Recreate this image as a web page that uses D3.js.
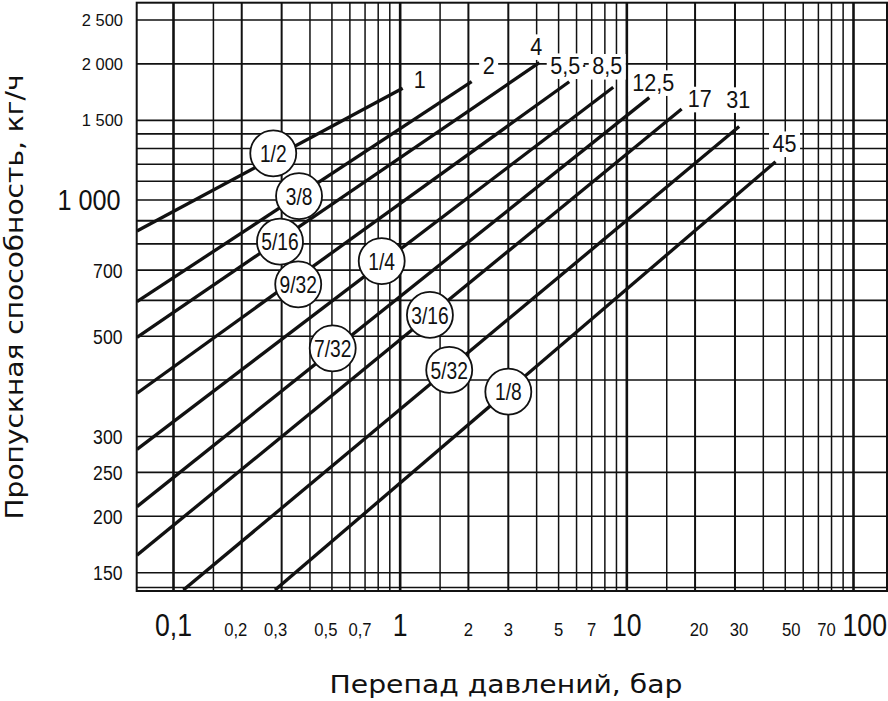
<!DOCTYPE html>
<html>
<head>
<meta charset="utf-8">
<script src="https://cdn.jsdelivr.net/npm/d3@7"></script>
<style>
    html, body { margin: 0; padding: 0; background: #fff; }
    svg { display: block; }
    .narrow { font-family: "Liberation Sans", Arial, sans-serif; }
    .title { font-family: "DejaVu Sans", "Liberation Sans", sans-serif; }
</style>
</head>
<body>
<svg id="chart"></svg>
<script>
// Orifice sizes, one line each
const orifices = ['1/2', '3/8', '5/16', '9/32', '1/4', '7/32', '3/16', '5/32', '1/8'];
// Line start / end, pressure drop (bar) and flow (kg/h)
const startDp   = [0.069, 0.069, 0.069, 0.069, 0.069, 0.069, 0.069, 0.1105, 0.2804];
const startFlow = [854, 596, 497, 374, 281, 210, 164, 137.3, 137.3];
const endDp     = [1.026, 2.067, 4.11, 5.57, 8.71, 12.56, 17.45, 31.3, 45.3];
const endFlow   = [1766, 1826, 2012, 1826, 1775, 1684, 1589, 1453, 1215];
// Max pressure drop labels at the line ends
const endLabels = ['1', '2', '4', '5,5', '8,5', '12,5', '17', '31', '45'];
// Where the orifice circles sit
const circleDp   = [0.2755, 0.358, 0.295, 0.355, 0.829, 0.504, 1.353, 1.646, 3.0];
const circleFlow = [1268, 1020, 809, 651, 733, 470, 557, 421, 377];

// Ticks and grid
const xGrid = [0.1, 0.15, 0.2, 0.3, 0.4, 0.5, 0.6, 0.7, 0.8, 0.9,
               1, 1.5, 2, 3, 4, 5, 6, 7, 8, 9,
               10, 15, 20, 30, 40, 50, 60, 70, 80, 90, 100];
const xMajor = [0.1, 1, 10, 100];
const xMinorLabels = [0.2, 0.3, 0.5, 0.7, 2, 3, 5, 7, 20, 30, 50, 70];
const yGrid = [150, 200, 250, 300, 400, 500, 600, 700, 800, 900,
               1000, 1100, 1200, 1300, 1400, 1500, 2000, 2500];
const yTickSmall = [150, 200, 250, 300, 500, 700];
const yTickTop = [1500, 2000, 2500];
const yTickBig = [1000];

const width = 888;
const height = 701;
const plot = { left: 136.7, right: 887, top: 2.7, bottom: 591 };

// label nudges (px)
const endLabelOffset = [[17, 0], [17, -8], [-3, -8], [-4, -8], [-6, -13], [4, -7], [18, -2], [-1, -19], [9, -10]];
const xMinorNudge = [-6, -6, -6, -5, 0, 0, 0, 0, 4, 4, 6, 8];

const svg = d3.select('#chart')
    .attr('width', width)
    .attr('height', height);

const x = d3.scaleLog().domain([0.1, 100]).range([173.5, 853.5]);
const y = d3.scaleLog().domain([150, 2500]).range([572.7, 20]);

const fmt = v => String(v).replace('.', ',');
const fmtY = v => v >= 1000 ? String(v).replace(/(\d)(\d{3})$/, '$1 $2') : String(v);

// condensed text: translate then squeeze horizontally
const squeeze = (px, py, sx) => `translate(${px},${py}) scale(${sx},1)`;

// Grid
const grid = svg.append('g').attr('stroke', '#111');

grid.selectAll('.vgrid')
    .data(xGrid)
    .join('line')
    .attr('x1', d => x(d)).attr('x2', d => x(d))
    .attr('y1', plot.top).attr('y2', plot.bottom)
    .attr('stroke-width', d => xMajor.includes(d) ? 2.6 : ([0.2, 0.3, 2, 3, 20, 30].includes(d) ? 2 : 1.5));

grid.selectAll('.hgrid')
    .data(yGrid)
    .join('line')
    .attr('x1', plot.left).attr('x2', plot.right)
    .attr('y1', d => y(d)).attr('y2', d => y(d))
    .attr('stroke-width', d => d === 900 ? 2 : 1.6);

// Frame
svg.append('rect')
    .attr('x', plot.left).attr('y', plot.top)
    .attr('width', plot.right - plot.left)
    .attr('height', plot.bottom - plot.top)
    .attr('fill', 'none')
    .attr('stroke', '#111')
    .attr('stroke-width', 2);
svg.append('line')
    .attr('x1', plot.left).attr('x2', plot.right)
    .attr('y1', plot.bottom - 3.5).attr('y2', plot.bottom - 3.5)
    .attr('stroke', '#111').attr('stroke-width', 1.5);

// Clip for flow lines
svg.append('clipPath').attr('id', 'clip')
    .append('rect')
    .attr('x', plot.left).attr('y', plot.top)
    .attr('width', plot.right - plot.left)
    .attr('height', plot.bottom - plot.top);

const lines = orifices.map((name, i) => ({
    name,
    pts: [[startDp[i], startFlow[i]], [endDp[i], endFlow[i]]],
    label: endLabels[i],
    circle: [circleDp[i], circleFlow[i]]
}));

const lineGen = d3.line().x(d => x(d[0])).y(d => y(d[1]));

svg.append('g')
    .attr('clip-path', 'url(#clip)')
    .selectAll('path')
    .data(lines)
    .join('path')
    .attr('d', d => lineGen(d.pts))
    .attr('fill', 'none')
    .attr('stroke', '#111')
    .attr('stroke-width', 3.3);

// End labels with white boxes
const endG = svg.append('g').attr('class', 'narrow');
lines.forEach((d, i) => {
    const g = endG.append('g')
        .attr('transform', squeeze(x(d.pts[1][0]) + endLabelOffset[i][0], y(d.pts[1][1]) + endLabelOffset[i][1], 0.88));
    const box = g.append('rect').attr('fill', '#fff');
    const t = g.append('text')
        .attr('text-anchor', 'middle')
        .attr('font-size', 24.5)
        .attr('fill', '#111')
        .text(d.label);
    const b = t.node().getBBox();
    box.attr('x', b.x - 4).attr('y', b.y + 2)
       .attr('width', b.width + 8).attr('height', b.height - 2);
});
endG.append('text')
    .attr('x', 584).attr('y', 71)
    .attr('text-anchor', 'middle')
    .attr('font-size', 20)
    .attr('fill', '#111')
    .text('·');

// Orifice circles
const circG = svg.append('g').attr('class', 'narrow')
    .selectAll('g')
    .data(lines)
    .join('g')
    .attr('transform', d => `translate(${x(d.circle[0])}, ${y(d.circle[1])})`);
circG.append('circle')
    .attr('r', 23)
    .attr('fill', '#fff')
    .attr('stroke', '#111')
    .attr('stroke-width', 1.8);
circG.append('text')
    .attr('text-anchor', 'middle')
    .attr('dy', '0.36em')
    .attr('font-size', 24)
    .attr('transform', 'scale(0.8,1)')
    .attr('fill', '#111')
    .text(d => d.name);

// X tick labels
const xt = svg.append('g').attr('class', 'narrow').attr('fill', '#111');
xt.selectAll('.xbig')
    .data(xMajor)
    .join('text')
    .attr('transform', d => squeeze(d === 100 ? plot.right : x(d), 636, 0.86))
    .attr('text-anchor', d => d === 100 ? 'end' : 'middle')
    .attr('font-size', 31)
    .text(fmt);
xt.selectAll('.xsmall')
    .data(xMinorLabels)
    .join('text')
    .attr('transform', (d, i) => squeeze(x(d) + xMinorNudge[i], 636, 0.9))
    .attr('text-anchor', 'middle')
    .attr('font-size', 18.5)
    .text(fmt);

// Y tick labels
const yt = svg.append('g').attr('class', 'narrow').attr('fill', '#111').attr('text-anchor', 'end');
yt.selectAll('.ysmall')
    .data(yTickSmall)
    .join('text')
    .attr('transform', d => squeeze(122.5, y(d), 0.84))
    .attr('dy', '0.36em')
    .attr('font-size', 21)
    .text(fmtY);
yt.selectAll('.ytop')
    .data(yTickTop)
    .join('text')
    .attr('transform', d => squeeze(123, y(d), 1))
    .attr('dy', '0.36em')
    .attr('font-size', 16.5)
    .text(fmtY);
yt.selectAll('.ybig')
    .data(yTickBig)
    .join('text')
    .attr('transform', d => squeeze(120.5, y(d), 0.87))
    .attr('dy', '0.36em')
    .attr('font-size', 29)
    .text(fmtY);

// Axis titles
svg.append('text')
    .attr('class', 'title')
    .attr('x', 506).attr('y', 693)
    .attr('text-anchor', 'middle')
    .attr('font-size', 24)
    .attr('textLength', 353)
    .attr('lengthAdjust', 'spacingAndGlyphs')
    .attr('fill', '#111')
    .text('Перепад давлений, бар');

svg.append('text')
    .attr('class', 'title')
    .attr('transform', 'translate(23, 297) rotate(-90)')
    .attr('text-anchor', 'middle')
    .attr('font-size', 24)
    .attr('textLength', 445)
    .attr('lengthAdjust', 'spacingAndGlyphs')
    .attr('fill', '#111')
    .text('Пропускная способность, кг/ч');
</script>
</body>
</html>
